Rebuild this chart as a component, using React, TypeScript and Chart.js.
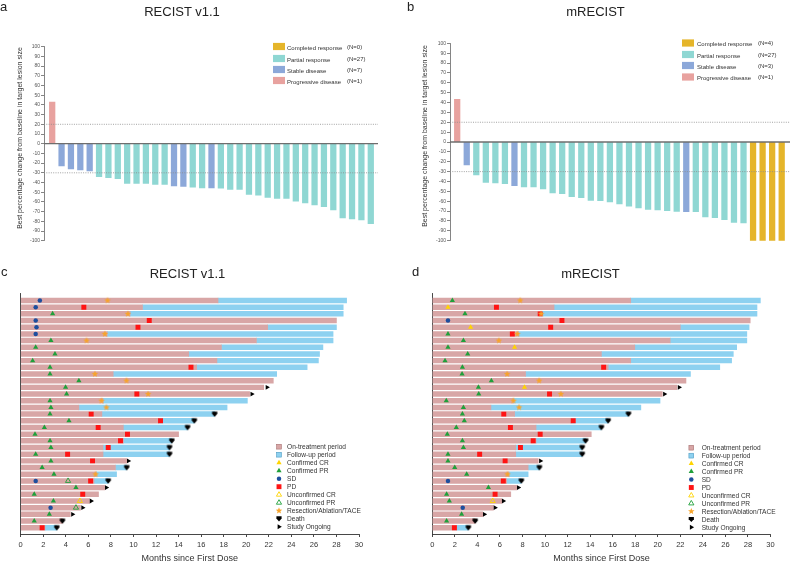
import React, { useEffect, useRef } from 'react';
import { Chart, registerables } from 'chart.js';

Chart.register(...registerables);

const FONT = "'Liberation Sans', Arial, Helvetica, sans-serif";
Chart.defaults.font.family = FONT;
Chart.defaults.color = '#333';

/* ---------------- Panels a & b : best % change (waterfall) ---------------- */
const responseKeys = ['CR', 'PR', 'SD', 'PD'];
const responseNames = ['Completed response', 'Partial response', 'Stable disease', 'Progressive disease'];
const responseColors = ['#E5B52A', '#8FD7D3', '#8CA8D9', '#E8A29F'];
const referenceLines = [20, -30];
const waterfallYTitle = 'Best percentage change from baseline in target lesion size';

const aChange = [43, -23, -26, -27, -28, -34, -35, -36, -41, -41, -41, -42, -42, -43.4, -44, -44.8, -45.5, -45.5, -45.8, -47.2, -47.2, -52.4, -53, -55.5, -56.5, -56.5, -59.3, -61, -63, -64.8, -68.3, -76.5, -77.6, -78.6, -82.4];
const aResponse = ['PD', 'SD', 'SD', 'SD', 'SD', 'PR', 'PR', 'PR', 'PR', 'PR', 'PR', 'PR', 'PR', 'SD', 'SD', 'PR', 'PR', 'SD',
  'PR', 'PR', 'PR', 'PR', 'PR', 'PR', 'PR', 'PR', 'PR', 'PR', 'PR', 'PR', 'PR', 'PR', 'PR', 'PR', 'PR'];
const aCounts = ['(N=0)', '(N=27)', '(N=7)', '(N=1)'];

const bChange = [43.2, -23.3, -33.4, -40.9, -41.5, -42.2, -44.3, -45.6, -45.6, -47.6, -51.7, -52.4, -55.4, -56.4, -59.1, -59.5, -60.8, -62.8, -64.9, -66.9, -68.2, -68.9, -69.6, -70.3, -70.6, -70.6, -76, -76.7, -78.7, -81.4, -82.1, -100, -100, -100, -100];
const bResponse = ['PD', 'SD', 'PR', 'PR', 'PR', 'PR', 'SD',
  'PR', 'PR', 'PR', 'PR', 'PR', 'PR', 'PR', 'PR', 'PR', 'PR', 'PR', 'PR', 'PR', 'PR', 'PR', 'PR', 'PR',
  'SD', 'PR', 'PR', 'PR', 'PR', 'PR', 'PR', 'CR', 'CR', 'CR', 'CR'];
const bCounts = ['(N=4)', '(N=27)', '(N=3)', '(N=1)'];

/* ---------------- Panels c & d : swimmer plots ---------------- */
// months; row i (1-based) = index i-1
const cTreatEnd = [17.5, 10.8, 9.7, 28.0, 21.9, 7.67, 20.9, 17.8, 14.9, 17.4, 15.6, 8.2, 22.4, 21.55, 20.3, 7.3, 5.16, 7.2, 12.2, 9.1, 14.0, 9.1, 7.3, 7.3, 9.4, 8.4, 6.7, 6.5, 7.46, 6.9, 6.1, 5.3, 4.4, 3.7, 2.15];
const cFollowEnd = [28.9, 28.6, 28.6, null, 28.0, 27.7, 27.7, 26.8, 26.5, 26.4, 25.4, 22.7, null, null, null, 20.1, 18.3, 17.2, 15.4, 14.8, null, 13.4, 13.2, 13.2, null, 9.4, 8.5, 7.76, null, null, null, null, null, null, 3.2];
// [row, month]
const cConfirmedCR: [number, number][] = [];
const cConfirmedPR: [number, number][] = [[3, 2.83], [7, 2.68], [8, 1.33], [9, 3.04], [10, 1.06], [11, 2.6], [12, 2.6], [13, 5.16], [14, 3.98], [15, 4.07], [16, 2.6], [17, 2.68], [18, 2.6], [19, 4.28], [20, 2.1], [21, 1.27], [22, 2.6], [23, 2.68], [24, 1.33], [25, 2.68], [26, 1.9], [27, 2.95], [29, 4.9], [30, 1.2], [31, 2.9], [33, 2.54], [34, 1.2]];
const cSD: [number, number][] = [[1, 1.7], [2, 1.33], [4, 1.33], [5, 1.4], [6, 1.33], [28, 1.33], [32, 2.65]];
const cPD: [number, number][] = [[2, 5.6], [4, 11.4], [5, 10.4], [11, 15.1], [15, 10.3], [18, 6.25], [19, 12.4], [20, 6.87], [21, 9.47], [22, 8.85], [23, 7.76], [24, 4.16], [25, 6.37], [28, 6.2], [30, 5.5], [35, 1.9]];
const cUnconfirmedCR: [number, number][] = [[31, 5.25]];
const cUnconfirmedPR: [number, number][] = [[28, 4.2], [32, 4.9]];
const cResection: [number, number][] = [[1, 7.7], [3, 9.5], [6, 7.46], [7, 5.84], [12, 6.58], [13, 9.38], [15, 11.3], [16, 7.17], [17, 7.6], [27, 6.64]];
const cDeath: [number, number][] = [[18, 17.2], [19, 15.4], [20, 14.8], [22, 13.4], [23, 13.2], [24, 13.2], [26, 9.4], [28, 7.76], [34, 3.7], [35, 3.2]];
const cOngoing: [number, number][] = [[14, 21.85], [15, 20.5], [25, 9.55], [29, 7.6], [31, 6.25], [32, 5.5], [33, 4.6]];

const dTreatEnd = [17.6, 10.8, 9.7, 28.2, 22.0, 7.64, 21.1, 17.96, 15.0, 17.6, 15.6, 8.27, 22.5, 21.7, 20.4, 7.2, 5.2, 7.3, 12.3, 9.2, 14.1, 9.2, 7.4, 7.4, 9.4, 8.5, 6.8, 6.6, 7.5, 6.96, 6.16, 5.42, 4.47, 3.8, 2.16];
const dFollowEnd = [29.1, 28.8, 28.8, null, 28.1, 27.9, 27.9, 27.0, 26.7, 26.55, 25.5, 22.9, null, null, null, 20.2, 18.5, 17.4, 15.6, 15.0, null, 13.6, 13.3, 13.3, null, 9.5, 8.5, 7.9, null, null, null, null, null, null, 3.2];
const dConfirmedCR: [number, number][] = [[2, 1.39], [5, 3.4], [8, 7.3], [14, 8.18]];
const dConfirmedPR: [number, number][] = [[1, 1.78], [3, 2.9], [6, 1.39], [7, 2.76], [8, 1.39], [9, 3.14], [10, 1.13], [11, 2.67], [12, 2.64], [13, 5.24], [14, 4.09], [15, 4.12], [16, 1.24], [17, 2.76], [18, 2.67], [19, 2.84], [20, 2.13], [21, 1.33], [22, 2.67], [23, 2.76], [24, 1.39], [25, 1.39], [26, 1.99], [27, 3.05], [29, 4.98], [30, 1.27], [31, 1.51], [33, 2.6], [34, 1.27]];
const dSD: [number, number][] = [[4, 1.39], [28, 1.39], [32, 2.7]];
const dPD: [number, number][] = [[2, 5.69], [3, 9.57], [4, 11.5], [5, 10.5], [6, 7.1], [11, 15.2], [15, 10.4], [18, 6.34], [19, 12.5], [20, 6.93], [21, 9.57], [22, 8.95], [23, 7.82], [24, 4.2], [25, 6.46], [28, 6.3], [30, 5.57], [35, 1.96]];
const dUnconfirmedCR: [number, number][] = [[31, 5.36]];
const dUnconfirmedPR: [number, number][] = [];
const dResection: [number, number][] = [[1, 7.8], [3, 9.66], [6, 7.55], [7, 5.9], [12, 6.64], [13, 9.48], [15, 11.4], [16, 7.2], [17, 7.7], [27, 6.67]];
const dDeath: [number, number][] = [[18, 17.4], [19, 15.6], [20, 15.0], [22, 13.6], [23, 13.3], [24, 13.3], [26, 9.5], [28, 7.9], [34, 3.8], [35, 3.2]];
const dOngoing: [number, number][] = [[14, 21.9], [15, 20.6], [25, 9.6], [29, 7.64], [31, 6.3], [32, 5.57], [33, 4.62]];

const swimmerXTitle = 'Months since First Dose';
const swimmerLegendKinds = ['treat', 'follow', 'CR', 'PR', 'SD', 'PD', 'uCR', 'uPR', 'star', 'death', 'ongoing'];
const swimmerLegendNames = ['On-treatment period', 'Follow-up period', 'Confirmed CR', 'Confirmed PR', 'SD', 'PD', 'Unconfirmed CR', 'Unconfirmed PR', 'Resection/Ablation/TACE', 'Death', 'Study Ongoing'];

/* ---------------- styles ---------------- */
const PINK = '#D8A6A6';
const BLUE = '#8DD1F0';
const GREEN = '#1FA03A';
const YELLOW = '#FFD400';
const NAVY = '#1D4E9E';
const RED = '#FF1414';
const ORANGE = '#F7A42A';

function triPath(ctx: CanvasRenderingContext2D, x: number, y: number, r: number) {
  ctx.beginPath();
  ctx.moveTo(x, y - r);
  ctx.lineTo(x + r * 0.866, y + r * 0.5);
  ctx.lineTo(x - r * 0.866, y + r * 0.5);
  ctx.closePath();
}

function drawMarker(ctx: CanvasRenderingContext2D, kind: string, x: number, y: number) {
  ctx.save();
  ctx.setLineDash([]);
  switch (kind) {
    case 'treat':
    case 'follow':
      ctx.fillStyle = kind === 'treat' ? PINK : BLUE;
      ctx.fillRect(x - 2.4, y - 2.4, 4.8, 4.8);
      ctx.strokeStyle = kind === 'treat' ? '#A97474' : '#4F9CC4';
      ctx.lineWidth = 0.6;
      ctx.strokeRect(x - 2.4, y - 2.4, 4.8, 4.8);
      break;
    case 'CR':
    case 'PR':
      triPath(ctx, x, y, 3.0);
      ctx.fillStyle = kind === 'CR' ? YELLOW : GREEN;
      ctx.fill();
      break;
    case 'uCR':
    case 'uPR':
      triPath(ctx, x, y, 3.0);
      ctx.strokeStyle = kind === 'uCR' ? YELLOW : GREEN;
      ctx.lineWidth = 0.9;
      ctx.stroke();
      break;
    case 'SD':
      ctx.beginPath();
      ctx.arc(x, y, 2.25, 0, Math.PI * 2);
      ctx.fillStyle = NAVY;
      ctx.fill();
      break;
    case 'PD':
      ctx.fillStyle = RED;
      ctx.fillRect(x - 2.45, y - 2.45, 4.9, 4.9);
      break;
    case 'star': {
      ctx.beginPath();
      for (let k = 0; k < 10; k++) {
        const ang = -Math.PI / 2 + (k * Math.PI) / 5;
        const rad = k % 2 === 0 ? 3.4 : 1.45;
        ctx.lineTo(x + rad * Math.cos(ang), y + rad * Math.sin(ang));
      }
      ctx.closePath();
      ctx.fillStyle = ORANGE;
      ctx.fill();
      break;
    }
    case 'death':
      ctx.beginPath();
      ctx.moveTo(x - 2.6, y - 2.4);
      ctx.lineTo(x + 2.6, y - 2.4);
      ctx.lineTo(x + 2.6, y - 0.2);
      ctx.lineTo(x, y + 2.7);
      ctx.lineTo(x - 2.6, y - 0.2);
      ctx.closePath();
      ctx.fillStyle = '#000';
      ctx.fill();
      break;
    case 'ongoing':
      ctx.beginPath();
      ctx.moveTo(x + 2.8, y);
      ctx.lineTo(x - 1.4, y - 2.45);
      ctx.lineTo(x - 1.4, y + 2.45);
      ctx.closePath();
      ctx.fillStyle = '#000';
      ctx.fill();
      break;
  }
  ctx.restore();
}

function markerImage(kind: string) {
  const c = document.createElement('canvas');
  c.width = 10;
  c.height = 10;
  const ctx = c.getContext('2d')!;
  drawMarker(ctx, kind, 5, 5);
  return c;
}

/* ---------------- plugins ---------------- */
const waterfallDecor = {
  id: 'waterfallDecor',
  afterDatasetsDraw(chart: any, _args: any, o: any) {
    const { ctx, chartArea: ca } = chart;
    const y = chart.scales.y;
    ctx.save();
    ctx.strokeStyle = '#8c8c8c';
    ctx.lineWidth = 0.8;
    ctx.setLineDash([1, 1.3]);
    referenceLines.forEach((v) => {
      const py = y.getPixelForValue(v);
      ctx.beginPath();
      ctx.moveTo(ca.left, py);
      ctx.lineTo(ca.right, py);
      ctx.stroke();
    });
    ctx.setLineDash([]);
    const z = y.getPixelForValue(0);
    ctx.strokeStyle = '#6e6e6e';
    ctx.lineWidth = 1.3;
    ctx.beginPath();
    ctx.moveTo(ca.left, z);
    ctx.lineTo(ca.right, z);
    ctx.stroke();

    ctx.font = `6px ${FONT}`;
    ctx.textBaseline = 'middle';
    responseNames.forEach((name, k) => {
      const cy = o.rows[k];
      ctx.fillStyle = responseColors[k];
      ctx.fillRect(o.boxX, cy - 3.6, 12, 7.2);
      ctx.fillStyle = '#333';
      ctx.fillText(name, o.textX, cy + 1.5);
      ctx.fillText(o.counts[k], o.countX, cy + 0.5);
    });

    ctx.save();
    ctx.translate(o.titleX, o.titleY);
    ctx.rotate(-Math.PI / 2);
    ctx.textAlign = 'center';
    ctx.font = `7px ${FONT}`;
    ctx.fillStyle = '#333';
    ctx.fillText(waterfallYTitle, 0, 0);
    ctx.restore();
    ctx.restore();
  },
};

const swimmerLegend = {
  id: 'swimmerLegend',
  afterDraw(chart: any, _args: any, o: any) {
    const ctx = chart.ctx;
    ctx.save();
    ctx.font = `6.6px ${FONT}`;
    ctx.textBaseline = 'middle';
    swimmerLegendKinds.forEach((kind, i) => {
      const cy = o.top + i * o.step;
      drawMarker(ctx, kind, o.markerX, cy);
      ctx.fillStyle = '#333';
      ctx.fillText(swimmerLegendNames[i], o.textX, cy + 0.5);
    });
    ctx.restore();
  },
};

/* ---------------- configs ---------------- */
function waterfallConfig(p: any) {
  return {
    type: 'bar',
    data: {
      datasets: [
        {
          data: p.values.map((v: number, i: number) => ({ x: i, y: v })),
          backgroundColor: p.responses.map((r: string) => responseColors[responseKeys.indexOf(r)]),
          borderWidth: 0,
          barThickness: 5.6,
        },
      ],
    },
    options: {
      animation: false,
      responsive: false,
      devicePixelRatio: 1,
      layout: { padding: { left: 0, right: p.padRight, top: p.padTop, bottom: p.padBottom } },
      plugins: {
        legend: { display: false },
        tooltip: { enabled: false },
        waterfallDecor: { rows: p.rows, boxX: p.boxX, textX: p.textX, countX: p.countX, counts: p.counts, titleX: p.titleX, titleY: p.titleY },
      },
      scales: {
        x: { type: 'linear', display: false, min: p.xMin, max: p.xMax, offset: false },
        y: {
          type: 'linear',
          min: -100,
          max: 100,
          ticks: { stepSize: 10, autoSkip: false, font: { size: 5 }, color: '#555', padding: 1 },
          grid: { drawOnChartArea: false, tickLength: 3, color: '#666', lineWidth: 0.8 },
          border: { color: '#666', width: 0.8 },
          afterFit: (s: any) => {
            s.width = p.axisLeft;
          },
        },
      },
    },
    plugins: [waterfallDecor],
  };
}

function swimmerConfig(p: any) {
  const pts = (pairs: [number, number][]) => pairs.map(([r, m]) => ({ x: m, y: r }));
  const scatter = (pairs: [number, number][], order: number, extra: any) => ({
    type: 'scatter',
    data: pts(pairs),
    order,
    pointBorderWidth: 0,
    ...extra,
  });
  const followBars: any[] = [];
  p.followEnd.forEach((f: number | null, i: number) => {
    if (f != null) followBars.push({ x: [p.treatEnd[i], f], y: i + 1 });
  });
  return {
    type: 'bar',
    data: {
      datasets: [
        scatter(p.ongoing, 1, { pointStyle: 'triangle', pointRotation: 90, pointRadius: 2.8, pointBackgroundColor: '#000' }),
        scatter(p.death, 1, { pointStyle: markerImage('death'), pointRadius: 3 }),
        scatter(p.star, 2, { pointStyle: markerImage('star'), pointRadius: 3 }),
        scatter(p.uCR, 3, { pointStyle: 'triangle', pointRadius: 3, pointBackgroundColor: 'rgba(0,0,0,0)', pointBorderColor: YELLOW, pointBorderWidth: 0.9 }),
        scatter(p.uPR, 3, { pointStyle: 'triangle', pointRadius: 3, pointBackgroundColor: 'rgba(0,0,0,0)', pointBorderColor: GREEN, pointBorderWidth: 0.9 }),
        scatter(p.CR, 3, { pointStyle: 'triangle', pointRadius: 3, pointBackgroundColor: YELLOW }),
        scatter(p.PR, 3, { pointStyle: 'triangle', pointRadius: 3, pointBackgroundColor: GREEN }),
        scatter(p.SD, 3, { pointStyle: 'circle', pointRadius: 2.25, pointBackgroundColor: NAVY }),
        scatter(p.PD, 4, { pointStyle: 'rect', pointRadius: 3.5, pointBackgroundColor: RED }),
        {
          type: 'bar',
          indexAxis: 'y',
          data: p.treatEnd.map((v: number, i: number) => ({ x: [0, v], y: i + 1 })),
          backgroundColor: PINK,
          borderWidth: 0,
          grouped: false,
          barThickness: 4.8,
          order: 10,
        },
        {
          type: 'bar',
          indexAxis: 'y',
          data: followBars,
          backgroundColor: BLUE,
          borderWidth: 0,
          grouped: false,
          barThickness: 4.8,
          order: 11,
        },
      ],
    },
    options: {
      animation: false,
      responsive: false,
      devicePixelRatio: 1,
      indexAxis: 'y',
      layout: { padding: { left: p.padLeft, right: p.padRight, top: p.padTop, bottom: 0 } },
      plugins: {
        legend: { display: false },
        tooltip: { enabled: false },
        swimmerLegend: { markerX: p.legendMarkerX, textX: p.legendTextX, top: p.legendTop, step: p.legendStep },
      },
      scales: {
        x: {
          type: 'linear',
          min: 0,
          max: 30,
          offset: false,
          ticks: { stepSize: 2, autoSkip: false, font: { size: 7.5 }, color: '#333', padding: 3, maxRotation: 0 },
          grid: { drawOnChartArea: false, tickLength: 3, color: '#333', lineWidth: 0.9 },
          border: { color: '#333', width: 0.9 },
          title: { display: true, text: swimmerXTitle, font: { size: 9, lineHeight: 1 }, color: '#333', padding: { top: 0, bottom: 0 } },
          afterFit: (s: any) => {
            s.height = 29;
          },
        },
        y: {
          type: 'linear',
          reverse: true,
          min: -0.12,
          max: 35.94,
          offset: false,
          ticks: { display: false },
          grid: { display: false, drawTicks: false },
          border: { display: true, color: '#333', width: 0.9 },
          afterFit: (s: any) => {
            s.width = 0;
          },
        },
      },
    },
    plugins: [swimmerLegend],
  };
}

/* ---------------- components ---------------- */
function ChartCanvas({ make, left, top, width, height }: any) {
  const ref = useRef<HTMLCanvasElement>(null);
  useEffect(() => {
    const chart = new Chart(ref.current as HTMLCanvasElement, make());
    return () => chart.destroy();
  }, []);
  return <canvas ref={ref} width={width} height={height} style={{ position: 'absolute', left, top, width, height }} />;
}

function Text({ children, left, top, center }: any) {
  const style: any = { position: 'absolute', top, fontSize: 13, lineHeight: '13px', color: '#222', whiteSpace: 'nowrap' };
  if (center !== undefined) {
    style.left = center - 100;
    style.width = 200;
    style.textAlign = 'center';
  } else {
    style.left = left;
  }
  return <div style={style}>{children}</div>;
}

export default function App() {
  return (
    <div style={{ position: 'fixed', left: 0, top: 0, width: 790, height: 563, background: '#fff', overflow: 'hidden', fontFamily: FONT }}>
      <ChartCanvas
        left={0}
        top={0}
        width={395}
        height={250}
        make={() =>
          waterfallConfig({
            values: aChange, responses: aResponse, counts: aCounts,
            axisLeft: 44, xMin: -0.875, xMax: 34.77, padTop: 46.7, padBottom: 9.3, padRight: 17,
            rows: [46.5, 58.5, 69.5, 80.5], boxX: 273, textX: 287, countX: 347, titleX: 20, titleY: 138,
          })
        }
      />
      <ChartCanvas
        left={395}
        top={0}
        width={395}
        height={250}
        make={() =>
          waterfallConfig({
            values: bChange, responses: bResponse, counts: bCounts,
            axisLeft: 55, xMin: -0.754, xMax: 34.87, padTop: 43.3, padBottom: 9.3, padRight: 0,
            rows: [43, 54.5, 65.5, 77], boxX: 287, textX: 302, countX: 363, titleX: 30, titleY: 136,
          })
        }
      />
      <ChartCanvas
        left={0}
        top={245}
        width={395}
        height={318}
        make={() =>
          swimmerConfig({
            treatEnd: cTreatEnd, followEnd: cFollowEnd, CR: cConfirmedCR, PR: cConfirmedPR, SD: cSD, PD: cPD,
            uCR: cUnconfirmedCR, uPR: cUnconfirmedPR, star: cResection, death: cDeath, ongoing: cOngoing,
            padLeft: 20.7, padRight: 36, padTop: 48,
            legendMarkerX: 279, legendTextX: 287, legendTop: 201.7, legendStep: 8,
          })
        }
      />
      <ChartCanvas
        left={395}
        top={245}
        width={395}
        height={318}
        make={() =>
          swimmerConfig({
            treatEnd: dTreatEnd, followEnd: dFollowEnd, CR: dConfirmedCR, PR: dConfirmedPR, SD: dSD, PD: dPD,
            uCR: dUnconfirmedCR, uPR: dUnconfirmedPR, star: dResection, death: dDeath, ongoing: dOngoing,
            padLeft: 37.3, padRight: 19.5, padTop: 48,
            legendMarkerX: 296.3, legendTextX: 306.7, legendTop: 202.7, legendStep: 7.96,
          })
        }
      />
      <Text left={0} top={0}>a</Text>
      <Text left={407} top={0}>b</Text>
      <Text left={1} top={265}>c</Text>
      <Text left={412} top={265}>d</Text>
      <Text center={182} top={5}>RECIST v1.1</Text>
      <Text center={595.5} top={5}>mRECIST</Text>
      <Text center={187.5} top={266.5}>RECIST v1.1</Text>
      <Text center={590.5} top={267}>mRECIST</Text>
    </div>
  );
}
